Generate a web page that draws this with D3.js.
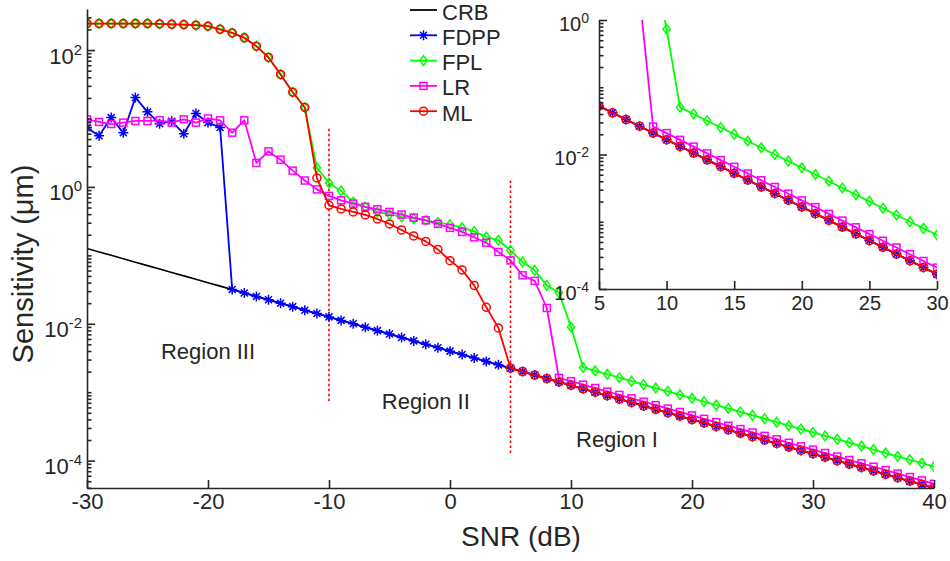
<!DOCTYPE html>
<html>
<head>
<meta charset="utf-8">
<script src="https://cdn.jsdelivr.net/npm/d3@7"></script>
<style>
  body { margin: 0; background: #fff; }
  svg text { font-family: "Liberation Sans", Arial, sans-serif; fill: #262626; }
</style>
</head>
<body>
<div id="chart"></div>
<script>

// ---- data ----
var snrMain = d3.range(-30, 41);   // -30 .. 40 dB, 1 dB step

var crbMain = [
  1.26e-1, 1.12e-1, 1.00e-1, 8.91e-2, 7.94e-2, 7.08e-2, 6.31e-2, 5.62e-2, 5.01e-2, 4.47e-2,
  3.98e-2, 3.55e-2, 3.16e-2, 2.82e-2, 2.51e-2, 2.24e-2, 2.00e-2, 1.78e-2, 1.58e-2, 1.41e-2,
  1.26e-2, 1.12e-2, 1.00e-2, 8.91e-3, 7.94e-3, 7.08e-3, 6.31e-3, 5.62e-3, 5.01e-3, 4.47e-3,
  3.98e-3, 3.55e-3, 3.16e-3, 2.82e-3, 2.51e-3, 2.24e-3, 2.00e-3, 1.78e-3, 1.58e-3, 1.41e-3,
  1.26e-3, 1.12e-3, 1.00e-3, 8.91e-4, 7.94e-4, 7.08e-4, 6.31e-4, 5.62e-4, 5.01e-4, 4.47e-4,
  3.98e-4, 3.55e-4, 3.16e-4, 2.82e-4, 2.51e-4, 2.24e-4, 2.00e-4, 1.78e-4, 1.58e-4, 1.41e-4,
  1.26e-4, 1.12e-4, 1.00e-4, 8.91e-5, 7.94e-5, 7.08e-5, 6.31e-5, 5.62e-5, 5.01e-5, 4.47e-5,
  3.98e-5];

var fdppMain = [
  7.3, 5.6, 10.3, 6.2, 20.2, 12.5, 8.4, 9.1, 6.0, 11.8,
  8.7, 7.4, 3.16e-2, 2.82e-2, 2.51e-2, 2.24e-2, 2.00e-2, 1.78e-2, 1.58e-2, 1.41e-2,
  1.26e-2, 1.12e-2, 1.00e-2, 8.91e-3, 7.94e-3, 7.08e-3, 6.31e-3, 5.62e-3, 5.01e-3, 4.47e-3,
  3.98e-3, 3.55e-3, 3.16e-3, 2.82e-3, 2.51e-3, 2.24e-3, 2.00e-3, 1.78e-3, 1.58e-3, 1.41e-3,
  1.26e-3, 1.12e-3, 1.00e-3, 8.91e-4, 7.94e-4, 7.08e-4, 6.31e-4, 5.62e-4, 5.01e-4, 4.47e-4,
  3.98e-4, 3.55e-4, 3.16e-4, 2.82e-4, 2.51e-4, 2.24e-4, 2.00e-4, 1.78e-4, 1.58e-4, 1.41e-4,
  1.26e-4, 1.12e-4, 1.00e-4, 8.91e-5, 7.94e-5, 7.08e-5, 6.31e-5, 5.62e-5, 5.01e-5, 4.47e-5,
  3.98e-5];

var fplMain = [
  244, 244, 244, 244, 244, 244, 241, 238, 236, 231,
  223, 201, 178, 151, 114, 78, 44, 24.2, 14.5, 1.90,
  1.14, 0.875, 0.60, 0.51, 0.431, 0.398, 0.364, 0.344, 0.325, 0.301,
  0.281, 0.254, 0.224, 0.186, 0.166, 0.118, 0.080, 0.0604, 0.0364, 0.0285,
  8.98e-3, 2.30e-3, 2.05e-3, 1.83e-3, 1.63e-3, 1.45e-3, 1.29e-3, 1.15e-3, 1.03e-3, 9.16e-4,
  8.16e-4, 7.28e-4, 6.48e-4, 5.78e-4, 5.15e-4, 4.59e-4, 4.10e-4, 3.65e-4, 3.24e-4, 2.89e-4,
  2.58e-4, 2.30e-4, 2.05e-4, 1.83e-4, 1.63e-4, 1.45e-4, 1.29e-4, 1.15e-4, 1.03e-4, 9.16e-5,
  8.16e-5];

var lrMain = [
  9.7, 8.9, 8.3, 8.7, 9.2, 9.2, 9.4, 8.7, 9.7, 8.7,
  10.0, 9.4, 6.2, 9.4, 2.24, 3.3, 2.5, 1.73, 1.24, 0.92,
  0.738, 0.637, 0.570, 0.510, 0.471, 0.431, 0.394, 0.356, 0.325, 0.288,
  0.252, 0.220, 0.183, 0.153, 0.112, 0.0845, 0.0510, 0.0423, 0.0170, 1.62e-3,
  1.45e-3, 1.29e-3, 1.15e-3, 1.02e-3, 9.13e-4, 8.14e-4, 7.26e-4, 6.46e-4, 5.76e-4, 5.14e-4,
  4.58e-4, 4.08e-4, 3.63e-4, 3.24e-4, 2.89e-4, 2.58e-4, 2.30e-4, 2.05e-4, 1.82e-4, 1.62e-4,
  1.45e-4, 1.29e-4, 1.15e-4, 1.02e-4, 9.13e-5, 8.14e-5, 7.26e-5, 6.46e-5, 5.76e-5, 5.14e-5,
  4.58e-5];

var mlMain = [
  244, 244, 244, 244, 244, 244, 241, 238, 236, 231,
  223, 201, 178, 151, 114, 78, 44, 24.2, 14.5, 1.35,
  0.538, 0.477, 0.431, 0.390, 0.340, 0.288, 0.235, 0.192, 0.160, 0.122,
  0.0837, 0.0612, 0.0364, 0.0174, 0.0087, 2.24e-3, 2.00e-3, 1.78e-3, 1.58e-3, 1.41e-3,
  1.26e-3, 1.12e-3, 1.00e-3, 8.91e-4, 7.94e-4, 7.08e-4, 6.31e-4, 5.62e-4, 5.01e-4, 4.47e-4,
  3.98e-4, 3.55e-4, 3.16e-4, 2.82e-4, 2.51e-4, 2.24e-4, 2.00e-4, 1.78e-4, 1.58e-4, 1.41e-4,
  1.26e-4, 1.12e-4, 1.00e-4, 8.91e-5, 7.94e-5, 7.08e-5, 6.31e-5, 5.62e-5, 5.01e-5, 4.47e-5,
  3.98e-5];

// inset: 5 .. 30 dB
var snrInset = d3.range(5, 31);

var crbInset = [5.25e-2, 4.17e-2, 3.31e-2, 2.63e-2, 2.09e-2, 1.66e-2, 1.32e-2, 1.05e-2, 8.32e-3, 6.61e-3,
  5.25e-3, 4.17e-3, 3.31e-3, 2.63e-3, 2.09e-3, 1.66e-3, 1.32e-3, 1.05e-3, 8.32e-4, 6.61e-4,
  5.25e-4, 4.17e-4, 3.31e-4, 2.63e-4, 2.09e-4, 1.66e-4];
var fdppInset = [5.25e-2, 4.17e-2, 3.31e-2, 2.63e-2, 2.09e-2, 1.66e-2, 1.32e-2, 1.05e-2, 8.32e-3, 6.61e-3,
  5.25e-3, 4.17e-3, 3.31e-3, 2.63e-3, 2.09e-3, 1.66e-3, 1.32e-3, 1.05e-3, 8.32e-4, 6.61e-4,
  5.25e-4, 4.17e-4, 3.31e-4, 2.63e-4, 2.09e-4, 1.66e-4];
var fplInset = [12, 11, 10, 9.5, 9.3, 0.727, 5.03e-2, 4.01e-2, 3.18e-2, 2.52e-2,
  2.01e-2, 1.59e-2, 1.26e-2, 1.00e-2, 7.98e-3, 6.34e-3, 5.04e-3, 4.01e-3, 3.18e-3, 2.52e-3,
  2.01e-3, 1.59e-3, 1.26e-3, 1.00e-3, 7.98e-4, 6.34e-4];
var lrInset = [4.0, 3.5, 3.0, 2.3, 2.60e-2, 2.08e-2, 1.65e-2, 1.31e-2, 1.04e-2, 8.26e-3,
  6.56e-3, 5.21e-3, 4.14e-3, 3.29e-3, 2.61e-3, 2.08e-3, 1.65e-3, 1.31e-3, 1.04e-3, 8.26e-4,
  6.56e-4, 5.21e-4, 4.14e-4, 3.29e-4, 2.61e-4, 2.08e-4];
var mlInset = [5.25e-2, 4.17e-2, 3.31e-2, 2.63e-2, 2.09e-2, 1.66e-2, 1.32e-2, 1.05e-2, 8.32e-3, 6.61e-3,
  5.25e-3, 4.17e-3, 3.31e-3, 2.63e-3, 2.09e-3, 1.66e-3, 1.32e-3, 1.05e-3, 8.32e-4, 6.61e-4,
  5.25e-4, 4.17e-4, 3.31e-4, 2.63e-4, 2.09e-4, 1.66e-4];

var seriesNames = ["CRB", "FDPP", "FPL", "LR", "ML"];
var seriesColors = ["#000000", "#0000ff", "#00ff00", "#ff00ff", "#ff0000"];
var seriesMarkers = ["none", "asterisk", "diamond", "square", "circle"];

var xTicksMain = [-30, -20, -10, 0, 10, 20, 30, 40];
var xTicksInset = [5, 10, 15, 20, 25, 30];
var yExpMain = [2, 0, -2, -4];
var yExpInset = [0, -2, -4];

// dotted region boundaries
var regionSnr = [-10, 5];
var regionTop = [7.1, 1.24];
var regionBottom = [7.2e-4, 1.26e-4];

var regionLabels = ["Region III", "Region II", "Region I"];
var regionLabelSnr = [-20, -2, 13.8];
var regionLabelVal = [3.1e-3, 5.6e-4, 1.6e-4];

// ---- layout ----
var mainCfg = { left: 87, right: 934, top: 9, bot: 488 };
var insetCfg = { left: 599, right: 937, top: 20, bot: 289 };
var axisColor = "#262626";

var svg = d3.select("#chart").append("svg")
  .attr("width", 950)
  .attr("height", 561);

var x = d3.scaleLinear().domain([-30, 40]).range([mainCfg.left, mainCfg.right]);
var y = d3.scaleLog().domain([Math.pow(10, -4.4), Math.pow(10, 2.6)]).range([mainCfg.bot, mainCfg.top]);

var xi = d3.scaleLinear().domain([5, 30]).range([insetCfg.left, insetCfg.right]);
var yi = d3.scaleLog().domain([1e-4, 1]).range([insetCfg.bot, insetCfg.top]);

var defs = svg.append("defs");
defs.append("clipPath").attr("id", "clipMain").append("rect")
  .attr("x", mainCfg.left).attr("y", mainCfg.top)
  .attr("width", mainCfg.right - mainCfg.left).attr("height", mainCfg.bot - mainCfg.top);
defs.append("clipPath").attr("id", "clipInset").append("rect")
  .attr("x", insetCfg.left).attr("y", insetCfg.top)
  .attr("width", insetCfg.right - insetCfg.left).attr("height", insetCfg.bot - insetCfg.top);

function addMarker(sel, type, color) {
  var m;
  if (type == "circle") {
    m = sel.append("circle").attr("r", 4);
  } else if (type == "square") {
    m = sel.append("rect").attr("x", -3.5).attr("y", -3.5).attr("width", 7).attr("height", 7);
  } else if (type == "diamond") {
    m = sel.append("path").attr("d", "M0,-4.8L3.6,0L0,4.8L-3.6,0Z");
  } else if (type == "asterisk") {
    m = sel.append("path").attr("d", "M-5,0H5M0,-5V5M-3.5,-3.5L3.5,3.5M-3.5,3.5L3.5,-3.5");
  } else {
    return;
  }
  m.style("fill", "none").style("stroke", color).style("stroke-width", 1.5);
}

function drawSeries(g, xs, ys, snr, values, color, marker, clipId) {
  var pts = snr.map(function(s, i) { return [s, values[i]]; });
  var layer = g.append("g").attr("clip-path", "url(#" + clipId + ")");

  var line = d3.line()
    .x(function(d) { return xs(d[0]); })
    .y(function(d) { return ys(d[1]); });

  layer.append("path")
    .datum(pts)
    .attr("d", line)
    .style("fill", "none")
    .style("stroke", color)
    .style("stroke-width", marker == "none" ? 1.6 : 1.8)
    .style("stroke-linejoin", "round");

  if (marker == "none") return;
  layer.selectAll(".mk")
    .data(pts)
    .enter().append("g")
    .attr("class", "mk")
    .attr("transform", function(d) { return "translate(" + xs(d[0]) + "," + ys(d[1]) + ")"; })
    .each(function() { addMarker(d3.select(this), marker, color); });
}

function minorValues(ys, majorExps) {
  var dom = ys.domain(), out = [];
  for (var k = -6; k <= 3; k++) {
    for (var m = 1; m <= 9; m++) {
      var v = m * Math.pow(10, k);
      if (m == 1 && majorExps.indexOf(k) >= 0) continue;
      if (v >= dom[0] * 0.9999 && v <= dom[1] * 1.0001) out.push(v);
    }
  }
  return out;
}

function drawAxes(g, xs, ys, xTicks, yExps, opt) {
  var bottom = ys.range()[0], left = xs.range()[0];

  // plain hyphen minus like the original figure
  var xa = g.append("g")
    .attr("transform", "translate(0," + bottom + ")")
    .call(d3.axisBottom(xs).tickValues(xTicks).tickSize(-8).tickSizeOuter(0)
      .tickPadding(opt.xPad).tickFormat(function(d) { return String(d); }));
  xa.selectAll("text").style("font-size", opt.fs + "px");

  var ya = g.append("g")
    .attr("transform", "translate(" + left + ",0)")
    .call(d3.axisLeft(ys).tickValues(yExps.map(function(e) { return Math.pow(10, e); }))
      .tickSize(-8).tickSizeOuter(0).tickFormat(""));

  var ym = g.append("g")
    .attr("transform", "translate(" + left + ",0)")
    .call(d3.axisLeft(ys).tickValues(minorValues(ys, yExps))
      .tickSize(-4.5).tickSizeOuter(0).tickFormat(""));
  ym.select(".domain").remove();

  [xa, ya, ym].forEach(function(a) {
    a.attr("font-family", null).attr("font-size", null)
      .style("color", axisColor);
    a.selectAll("path, line").style("stroke-width", 1.6);
  });

  var lab = g.selectAll(".ylab-" + opt.id)
    .data(yExps)
    .enter().append("text")
    .attr("class", "ylab-" + opt.id)
    .attr("x", left - opt.yGap)
    .attr("y", function(d) { return ys(Math.pow(10, d)) + opt.yDy; })
    .attr("text-anchor", "end")
    .style("font-size", opt.fs + "px");
  lab.append("tspan").text("10");
  lab.append("tspan")
    .attr("dy", opt.supDy)
    .style("font-size", opt.supFs + "px")
    .text(function(d) { return d; });
}

// ---- main panel ----
var mainG = svg.append("g");
var mainSets = [crbMain, fdppMain, fplMain, lrMain, mlMain];

mainG.selectAll(".region-line")
  .data(regionSnr)
  .enter().append("line")
  .attr("class", "region-line")
  .attr("x1", function(d) { return x(d); })
  .attr("x2", function(d) { return x(d); })
  .attr("y1", function(d, i) { return y(regionTop[i]); })
  .attr("y2", function(d, i) { return y(regionBottom[i]); })
  .style("stroke", "#ff0000")
  .style("stroke-width", 1.6)
  .style("stroke-dasharray", "2.5,2.5");

mainSets.forEach(function(vals, i) {
  drawSeries(mainG, x, y, snrMain, vals, seriesColors[i], seriesMarkers[i], "clipMain");
});

drawAxes(mainG, x, y, xTicksMain, yExpMain,
  { id: "main", fs: 22, supFs: 15, xPad: 5, yGap: 5, yDy: 13.5, supDy: -9 });

mainG.selectAll(".region-label")
  .data(regionLabels)
  .enter().append("text")
  .attr("class", "region-label")
  .attr("x", function(d, i) { return x(regionLabelSnr[i]); })
  .attr("y", function(d, i) { return y(regionLabelVal[i]); })
  .attr("text-anchor", "middle")
  .style("font-size", "22px")
  .text(function(d) { return d; });

mainG.append("text")
  .attr("x", 521)
  .attr("y", 546)
  .attr("text-anchor", "middle")
  .style("font-size", "28px")
  .text("SNR (dB)");

mainG.append("text")
  .attr("transform", "translate(33,264) rotate(-90)")
  .attr("text-anchor", "middle")
  .style("font-size", "29px")
  .text("Sensitivity (\u03bcm)");

// ---- legend ----
var legend = svg.append("g").attr("class", "legend");
var legRow = legend.selectAll(".leg")
  .data(seriesNames)
  .enter().append("g")
  .attr("class", "leg")
  .attr("transform", function(d, i) { return "translate(410," + (10 + i * 25.3) + ")"; });

legRow.append("line")
  .attr("x1", 0).attr("x2", 27)
  .style("stroke", function(d, i) { return seriesColors[i]; })
  .style("stroke-width", 1.8);
legRow.append("g")
  .attr("transform", "translate(13.5,0)")
  .each(function(d, i) { addMarker(d3.select(this), seriesMarkers[i], seriesColors[i]); });
legRow.append("text")
  .attr("x", 32)
  .attr("y", 9.5)
  .style("font-size", "22px")
  .text(function(d) { return d; });

// ---- inset panel ----
var insetG = svg.append("g");
var insetSets = [crbInset, fdppInset, fplInset, lrInset, mlInset];

insetSets.forEach(function(vals, i) {
  drawSeries(insetG, xi, yi, snrInset, vals, seriesColors[i], seriesMarkers[i], "clipInset");
});

drawAxes(insetG, xi, yi, xTicksInset, yExpInset,
  { id: "inset", fs: 20, supFs: 14, xPad: 7, yGap: 10, yDy: 10.7, supDy: -8 });

</script>
</body>
</html>
